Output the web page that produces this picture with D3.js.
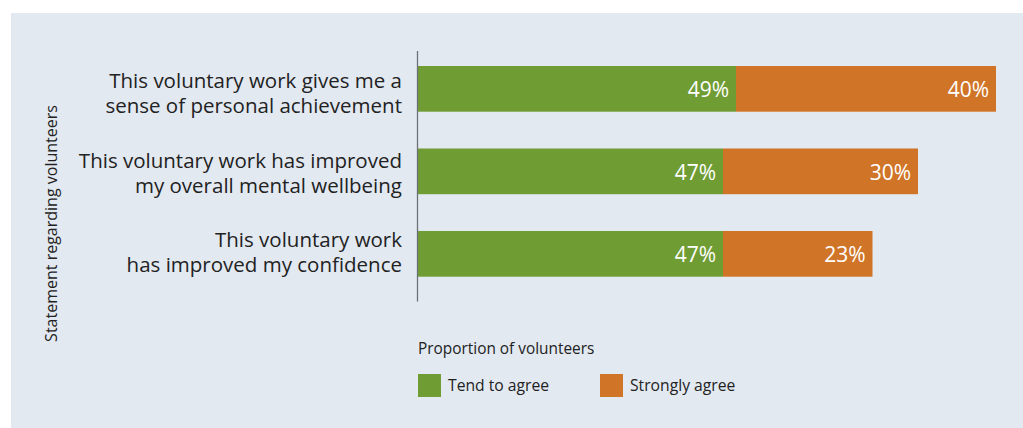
<!DOCTYPE html>
<html>
<head>
<meta charset="utf-8">
<script src="https://cdn.jsdelivr.net/npm/d3@7"></script>
<style>
  html, body { margin: 0; padding: 0; background: #ffffff; }
  svg { display: block; font-family: "Open Sans", sans-serif; }
</style>
</head>
<body>
<svg id="chart" width="1023" height="428"></svg>
<script>
// Statements (each split over two lines) and the share of volunteers per answer
const statements = [
  ["This voluntary work gives me a", "sense of personal achievement"],
  ["This voluntary work has improved", "my overall mental wellbeing"],
  ["This voluntary work", "has improved my confidence"]
];
const tendToAgree = [49, 47, 47];
const stronglyAgree = [40, 30, 23];
const seriesNames = ["Tend to agree", "Strongly agree"];
const seriesColors = ["#709c34", "#d07428"];

const svg = d3.select("#chart");

// Light panel behind the whole chart
svg.append("rect")
  .attr("x", 11).attr("y", 13)
  .attr("width", 1012).attr("height", 415)
  .attr("fill", "#e2e9f1");

const x = d3.scaleLinear().domain([0, 100]).range([417.5, 1067.5]);
const y = d3.scaleBand()
  .domain(d3.range(statements.length))
  .range([49.5, 293.2])
  .paddingInner(0.446)
  .paddingOuter(0.2);
// Baseline of the first line of each statement label
const labelY = d3.scalePoint()
  .domain(d3.range(statements.length))
  .range([88.4, 246.8]);

const rows = statements.map((s, i) => ({
  i,
  lines: s,
  parts: [
    { key: 0, v0: 0, v1: tendToAgree[i], value: tendToAgree[i] },
    { key: 1, v0: tendToAgree[i], v1: tendToAgree[i] + stronglyAgree[i], value: stronglyAgree[i] }
  ]
}));

// Stacked bars
const row = svg.selectAll("g.row").data(rows).join("g").attr("class", "row");

row.selectAll("rect")
  .data(d => d.parts.map(p => ({ ...p, i: d.i })))
  .join("rect")
  .attr("x", p => x(p.v0))
  .attr("y", p => y(p.i))
  .attr("width", p => x(p.v1) - x(p.v0))
  .attr("height", y.bandwidth())
  .attr("fill", p => seriesColors[p.key]);

// Value labels inside each segment
row.selectAll("text.val")
  .data(d => d.parts.map(p => ({ ...p, i: d.i })))
  .join("text")
  .attr("class", "val")
  .attr("x", p => x(p.v1) - 7)
  .attr("y", p => y(p.i) + y.bandwidth() / 2 + 8.5)
  .attr("text-anchor", "end")
  .attr("fill", "#ffffff")
  .attr("font-size", 21)
  .text(p => p.value + "%");

// Category axis line
svg.append("line")
  .attr("x1", 417.5).attr("x2", 417.5)
  .attr("y1", 51).attr("y2", 301.5)
  .attr("stroke", "#6b7078")
  .attr("stroke-width", 1.3);

// Two-line statement labels
row.append("text")
  .attr("text-anchor", "end")
  .attr("fill", "#222222")
  .attr("font-size", 20.5)
  .selectAll("tspan")
  .data(d => d.lines.map((t, k) => ({ t, k, i: d.i })))
  .join("tspan")
  .attr("x", 402)
  .attr("y", l => labelY(l.i) + l.k * 25)
  .text(l => l.t);

// Vertical axis title
svg.append("text")
  .attr("transform", "translate(57,223.5) rotate(-90)")
  .attr("text-anchor", "middle")
  .attr("fill", "#222222")
  .attr("font-size", 16)
  .text("Statement regarding volunteers");

// Legend
svg.append("text")
  .attr("x", 418).attr("y", 354)
  .attr("fill", "#222222")
  .attr("font-size", 15.4)
  .text("Proportion of volunteers");

const legend = svg.selectAll("g.legend")
  .data(seriesNames)
  .join("g")
  .attr("class", "legend")
  .attr("transform", (d, k) => `translate(${418 + k * 182},374)`);

legend.append("rect")
  .attr("width", 23).attr("height", 23)
  .attr("fill", (d, k) => seriesColors[k]);

legend.append("text")
  .attr("x", 30).attr("y", 17)
  .attr("fill", "#222222")
  .attr("font-size", 15.7)
  .text(d => d);
</script>
</body>
</html>
